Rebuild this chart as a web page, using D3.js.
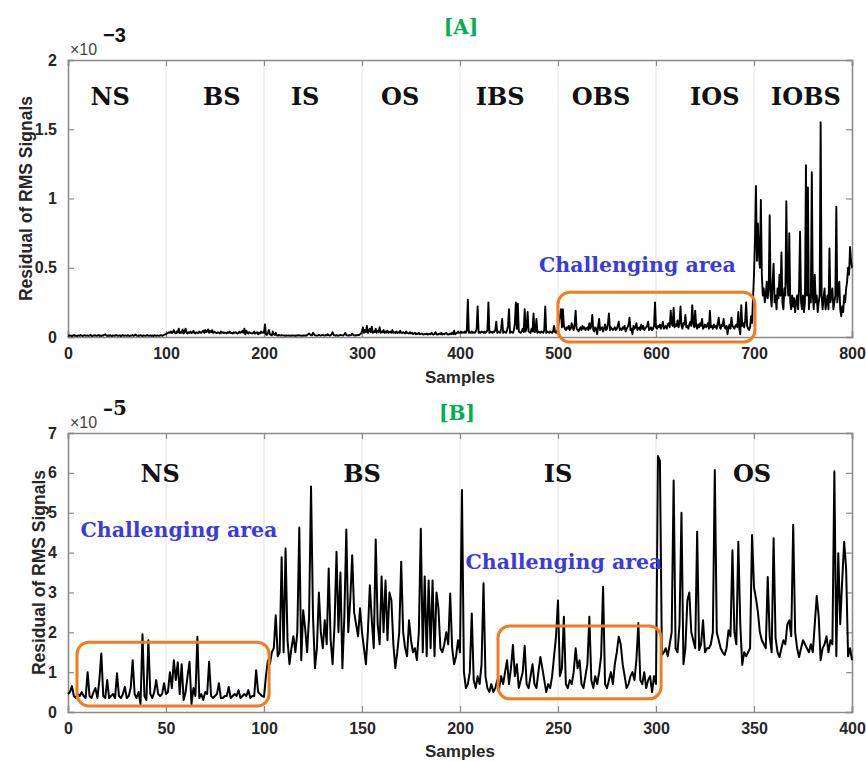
<!DOCTYPE html>
<html><head><meta charset="utf-8">
<script src="https://cdn.jsdelivr.net/npm/d3@7"></script>
<style>body{margin:0;background:#fff}</style>
</head><body>
<svg id="c" width="866" height="762"></svg>
<script>
// ---------------- DATA ----------------
// Panel A (units of 1e-3), one value per sample, 0..800
const aNS = [0.01,0.008,0.012,0.01,0.006,0.01,0.014,0.009,0.011,0.007,0.01,0.012,0.008,0.015,0.01,0.006,0.011,0.013,0.009,0.01,0.012,0.008,0.01,0.016,0.009,0.007,0.011,0.01,0.013,0.008,0.01,0.014,0.009,0.011,0.007,0.012,0.01,0.016,0.02,0.012,0.009,0.011,0.008,0.013,0.01,0.007,0.012,0.01,0.009,0.014,0.011,0.008,0.01,0.012,0.006,0.011,0.015,0.009,0.01,0.012,0.008,0.013,0.01,0.007,0.011,0.01,0.014,0.009,0.012,0.018,0.01,0.008,0.011,0.009,0.013,0.01,0.007,0.012,0.01,0.009,0.011,0.014,0.008,0.01,0.012,0.009,0.011,0.007,0.013,0.01,0.009,0.012,0.01,0.008,0.011,0.013,0.009,0.012,0.015,0.02];
const aBS = [0.02,0.025,0.03,0.035,0.03,0.04,0.028,0.035,0.05,0.03,0.025,0.04,0.032,0.06,0.028,0.035,0.03,0.055,0.025,0.04,0.06,0.03,0.025,0.035,0.03,0.04,0.028,0.033,0.045,0.03,0.025,0.035,0.03,0.028,0.04,0.032,0.03,0.038,0.045,0.03,0.05,0.035,0.04,0.055,0.03,0.045,0.035,0.05,0.03,0.04,0.035,0.03,0.028,0.035,0.03,0.025,0.04,0.03,0.035,0.028,0.032,0.03,0.025,0.035,0.03,0.04,0.028,0.03,0.025,0.033,0.03,0.035,0.028,0.025,0.03,0.04,0.03,0.035,0.045,0.03,0.06,0.02,0.045,0.03,0.025,0.035,0.03,0.028,0.025,0.03,0.04,0.025,0.03,0.035,0.02,0.03,0.025,0.04,0.03,0.035];
const aIS = [0.03,0.09,0.02,0.015,0.03,0.05,0.02,0.015,0.012,0.04,0.02,0.015,0.03,0.012,0.01,0.015,0.012,0.01,0.014,0.012,0.01,0.012,0.009,0.011,0.01,0.012,0.01,0.009,0.011,0.01,0.012,0.01,0.009,0.011,0.01,0.013,0.01,0.012,0.01,0.009,0.011,0.01,0.012,0.01,0.015,0.02,0.025,0.018,0.013,0.012,0.03,0.02,0.013,0.012,0.01,0.011,0.015,0.012,0.01,0.013,0.015,0.012,0.01,0.014,0.012,0.02,0.013,0.011,0.012,0.02,0.035,0.015,0.012,0.011,0.013,0.01,0.012,0.011,0.015,0.013,0.012,0.011,0.02,0.03,0.014,0.012,0.011,0.013,0.012,0.014,0.025,0.015,0.012,0.011,0.013,0.012,0.015,0.014,0.02,0.025];
const aOS = [0.04,0.07,0.03,0.05,0.035,0.08,0.03,0.04,0.06,0.035,0.075,0.03,0.04,0.035,0.06,0.03,0.045,0.035,0.07,0.03,0.04,0.035,0.05,0.03,0.04,0.032,0.045,0.03,0.035,0.04,0.03,0.05,0.03,0.035,0.03,0.04,0.028,0.035,0.03,0.045,0.03,0.028,0.035,0.03,0.025,0.04,0.03,0.028,0.025,0.035,0.025,0.03,0.022,0.025,0.03,0.02,0.025,0.022,0.03,0.02,0.022,0.025,0.02,0.018,0.022,0.02,0.025,0.018,0.02,0.022,0.02,0.03,0.02,0.018,0.022,0.035,0.02,0.018,0.02,0.025,0.02,0.03,0.018,0.022,0.02,0.025,0.03,0.02,0.018,0.02,0.025,0.02,0.03,0.02,0.045,0.02,0.025,0.03,0.04,0.03];
const aIBS = [0.03,0.04,0.03,0.035,0.03,0.04,0.03,0.05,0.27,0.03,0.035,0.03,0.04,0.03,0.035,0.03,0.04,0.06,0.22,0.03,0.035,0.03,0.04,0.035,0.03,0.04,0.03,0.035,0.05,0.25,0.03,0.04,0.035,0.03,0.04,0.035,0.05,0.11,0.03,0.04,0.035,0.03,0.06,0.13,0.03,0.04,0.035,0.03,0.05,0.08,0.2,0.03,0.04,0.035,0.03,0.05,0.1,0.25,0.06,0.24,0.04,0.035,0.03,0.04,0.06,0.035,0.2,0.04,0.07,0.18,0.04,0.035,0.03,0.06,0.04,0.17,0.035,0.04,0.13,0.03,0.04,0.035,0.03,0.04,0.035,0.03,0.05,0.22,0.03,0.04,0.035,0.03,0.04,0.035,0.03,0.04,0.08,0.035,0.03,0.04];
const aOBS = [0.06,0.12,0.15,0.2,0.07,0.2,0.08,0.06,0.05,0.07,0.06,0.08,0.05,0.06,0.1,0.07,0.05,0.09,0.19,0.06,0.05,0.04,0.06,0.07,0.05,0.08,0.06,0.07,0.05,0.06,0.07,0.05,0.1,0.06,0.08,0.16,0.05,0.04,0.07,0.06,0.02,0.08,0.13,0.05,0.06,0.07,0.04,0.06,0.09,0.05,0.06,0.1,0.17,0.05,0.07,0.06,0.05,0.06,0.07,0.05,0.06,0.08,0.11,0.05,0.06,0.05,0.07,0.06,0.08,0.04,0.06,0.07,0.09,0.14,0.05,0.06,0.02,0.08,0.06,0.07,0.1,0.05,0.06,0.07,0.05,0.09,0.06,0.08,0.05,0.06,0.07,0.08,0.11,0.05,0.06,0.07,0.05,0.06,0.08,0.25];
const aIOS = [0.07,0.06,0.08,0.07,0.09,0.06,0.08,0.11,0.06,0.07,0.08,0.06,0.09,0.1,0.07,0.19,0.1,0.08,0.21,0.07,0.09,0.08,0.12,0.07,0.1,0.22,0.08,0.06,0.1,0.09,0.16,0.07,0.08,0.06,0.09,0.11,0.08,0.23,0.1,0.07,0.19,0.08,0.06,0.09,0.07,0.1,0.08,0.13,0.06,0.07,0.09,0.07,0.08,0.1,0.06,0.19,0.07,0.08,0.06,0.09,0.07,0.08,0.06,0.1,0.14,0.07,0.06,0.09,0.08,0.13,0.07,0.06,0.08,0.02,0.07,0.09,0.06,0.14,0.08,0.07,0.06,0.08,0.09,0.07,0.18,0.06,0.02,0.23,0.08,0.1,0.07,0.12,0.25,0.08,0.06,0.05,0.07,0.15,0.1,0.28];
const aIOBS = [0.45,0.7,1.09,0.55,0.82,0.6,0.5,0.99,0.45,0.3,0.35,0.25,0.3,0.4,0.28,0.35,0.88,0.3,0.22,0.4,0.53,0.25,0.3,0.2,0.35,0.28,0.45,0.3,0.61,0.25,0.2,0.35,0.3,0.98,0.4,0.3,0.75,0.25,0.2,0.3,0.22,0.28,0.18,0.25,0.3,0.2,0.35,0.76,0.25,0.2,0.3,0.18,0.25,1.24,0.3,1.08,0.2,0.3,0.25,1.19,0.3,0.2,0.45,0.25,0.3,0.18,0.25,0.3,1.55,0.3,0.2,0.28,0.35,0.2,0.25,0.3,0.2,0.64,0.25,0.3,0.35,0.2,0.25,0.3,0.94,0.25,0.35,0.4,0.2,0.15,0.22,0.18,0.3,0.25,0.35,0.4,0.5,0.45,0.65,0.55,0.5];

// Panel B (units of 1e-5), one value per sample, 0..400
const bNS = [0.45,0.5,0.65,0.4,0.35,0.45,0.4,0.5,0.4,0.35,1.0,0.4,0.35,0.5,0.6,0.35,0.8,1.47,0.4,0.35,0.8,0.35,0.4,0.45,0.35,0.97,0.4,0.35,0.45,0.63,0.35,0.4,0.6,1.3,0.45,0.35,0.5,0.2,1.95,0.4,0.3,1.8,0.45,0.35,0.5,0.8,0.45,0.4,0.45,0.72,0.45,0.5,1.0,0.6,1.3,0.8,1.25,0.45,1.2,0.3,0.5,0.9,1.26,0.2,0.6,0.4,1.89,0.35,0.45,0.3,0.5,0.45,1.26,0.4,0.35,0.4,0.45,0.72,0.35,0.35,0.4,0.4,0.63,0.35,0.4,0.45,0.4,0.55,0.35,0.4,0.45,0.4,0.55,0.35,0.4,0.4,1.05,0.5,0.45,0.4];
const bBS = [0.38,0.9,1.3,1.2,1.5,1.6,2.43,1.4,1.5,3.88,1.5,4.1,1.8,1.2,1.6,1.9,1.5,2.0,4.63,1.3,2.55,2.1,1.5,2.4,5.66,2.4,1.1,1.6,3.0,2.0,1.6,2.3,1.7,3.6,1.8,1.2,2.2,4.02,2.0,3.5,1.1,2.4,4.58,2.0,2.8,3.93,2.5,2.2,1.9,2.6,2.0,1.6,1.2,2.0,3.18,2.3,1.6,4.33,2.2,1.7,3.4,2.0,3.3,1.8,3.0,2.8,1.7,1.1,1.5,2.0,3.77,2.0,1.6,1.4,2.3,1.8,1.5,1.6,1.3,2.0,4.6,1.5,3.4,1.4,3.3,1.6,3.3,1.4,3.0,2.6,1.6,1.5,1.7,2.0,1.7,2.97,1.6,1.2,1.4,1.8];
const bIS = [1.5,5.57,1.0,0.6,0.7,1.0,2.47,0.8,0.6,0.9,0.7,1.2,3.23,0.9,0.6,0.5,0.7,0.5,0.6,0.8,0.6,0.9,0.7,1.0,1.3,0.7,1.1,1.68,0.9,1.2,0.6,0.8,1.0,1.66,0.7,0.6,0.9,1.2,0.7,0.6,1.0,1.38,1.1,0.8,0.5,0.7,0.6,0.9,1.4,1.9,2.8,0.9,1.1,2.39,0.7,0.6,0.8,0.7,1.0,1.6,1.1,1.3,0.7,0.6,0.9,1.2,2.39,0.8,0.6,0.9,0.7,1.0,1.4,3.14,0.7,0.6,0.8,1.0,0.7,1.2,1.5,1.89,1.7,1.2,0.9,0.6,0.7,0.9,1.0,0.8,1.3,2.23,0.8,0.7,1.0,0.6,0.8,0.9,0.5,0.9];
const bOS = [0.7,6.42,6.3,1.43,1.5,1.6,1.4,1.7,2.0,5.81,1.6,1.5,2.2,5.0,1.2,1.6,2.8,3.0,2.0,1.8,1.6,4.52,1.55,1.7,2.3,1.5,1.6,1.6,1.7,2.0,6.07,2.0,1.8,1.6,1.5,1.43,1.6,2.05,1.9,4.06,2.0,1.7,4.27,2.2,1.18,1.5,1.4,1.5,1.6,4.44,3.13,2.85,2.5,2.0,1.8,1.7,1.6,3.39,1.9,1.5,4.36,1.86,1.5,1.38,1.6,1.8,1.7,2.2,2.3,1.9,4.7,2.0,1.6,1.38,1.6,1.8,1.7,1.6,1.5,1.7,1.5,2.2,2.91,2.4,1.3,1.6,1.7,1.9,1.5,1.8,1.7,6.04,1.4,3.98,2.2,3.3,4.27,3.6,1.4,1.6,1.3];

const seriesA = [...aNS, ...aBS, ...aIS, ...aOS, ...aIBS, ...aOBS, ...aIOS, ...aIOBS];
const seriesB = [...bNS, ...bBS, ...bIS, ...bOS];

const xTicksA = [0,100,200,300,400,500,600,700,800];
const yTicksA = [0,0.5,1,1.5,2];
const xTicksB = [0,50,100,150,200,250,300,350,400];
const yTicksB = [0,1,2,3,4,5,6,7];

const classesA = ["NS","BS","IS","OS","IBS","OBS","IOS","IOBS"];
const classPosA = [43,157,242,339,441,544,660,753];
const classesB = ["NS","BS","IS","OS"];
const classPosB = [47,150,250,349];

// annotation regions (in data units)
const boxesA = [{x0:500,x1:701,y0:-0.037,y1:0.323}];
const noteA = [{x:581,y:0.467}];
const boxesB = [{x0:4.6,x1:102.6,y0:0.15,y1:1.75},{x0:219.4,x1:302.6,y0:0.33,y1:2.16}];
const noteB = [{x:56.6,y:4.39},{x:253,y:3.58}];

// ---------------- DRAW ----------------
const svg = d3.select("#c");
const AX = "#8a8a8a", TXT = "#262626", ORANGE = "#f47b20", BLUE = "#3b3bdc", GREEN = "#00b050";
const SERIF = "'DejaVu Serif', serif", SANS = "Arial, 'Liberation Sans', sans-serif";

function panel(cfg){
  const g = svg.append("g");
  const x = d3.scaleLinear().domain(cfg.xd).range([cfg.l, cfg.r]);
  const y = d3.scaleLinear().domain(cfg.yd).range([cfg.b, cfg.t]);
  g.selectAll(".grid").data(cfg.xt.slice(1,-1)).join("line")
    .attr("x1",d=>x(d)).attr("x2",d=>x(d)).attr("y1",cfg.t).attr("y2",cfg.b)
    .attr("stroke","#e3e3e3").attr("stroke-width",1);
  const bottom = d3.axisBottom(x).tickValues(cfg.xt).tickSize(-6).tickPadding(11).tickFormat(d3.format("d"));
  const top = d3.axisTop(x).tickValues(cfg.xt).tickSize(-6).tickFormat("");
  const left = d3.axisLeft(y).tickValues(cfg.yt).tickSize(-6).tickPadding(11).tickFormat(d=>String(d));
  const right = d3.axisRight(y).tickValues(cfg.yt).tickSize(-6).tickFormat("");
  const ax = [
    g.append("g").attr("transform",`translate(0,${cfg.b})`).call(bottom),
    g.append("g").attr("transform",`translate(0,${cfg.t})`).call(top),
    g.append("g").attr("transform",`translate(${cfg.l},0)`).call(left),
    g.append("g").attr("transform",`translate(${cfg.r},0)`).call(right)
  ];
  ax.forEach(a=>{
    a.select(".domain").attr("stroke",AX).attr("stroke-width",1.6);
    a.selectAll(".tick line").attr("stroke",AX).attr("stroke-width",1.2);
    a.selectAll(".tick text").attr("fill",TXT).attr("font-family",SANS)
      .attr("font-weight","bold").attr("font-size",16);
  });
  const line = d3.line().x((d,i)=>x(i)).y(d=>y(d));
  g.append("path").datum(cfg.data).attr("d",line).attr("fill","none")
    .attr("stroke","#000").attr("stroke-width",cfg.lw).attr("stroke-linejoin","round");
  g.selectAll(".cls").data(cfg.cls).join("text")
    .attr("x",(d,i)=>x(cfg.clsPos[i])).attr("y",cfg.clsY)
    .attr("text-anchor","middle").attr("font-family",SERIF).attr("font-weight","bold")
    .attr("font-size",24).attr("fill","#111").text(d=>d);
  g.selectAll(".box").data(cfg.boxes).join("rect")
    .attr("x",d=>x(d.x0)).attr("y",d=>y(d.y1))
    .attr("width",d=>x(d.x1)-x(d.x0)).attr("height",d=>y(d.y0)-y(d.y1))
    .attr("rx",12).attr("ry",12).attr("fill","none")
    .attr("stroke",ORANGE).attr("stroke-width",3);
  g.selectAll(".note").data(cfg.notes).join("text")
    .attr("x",d=>x(d.x)).attr("y",d=>y(d.y)).attr("text-anchor","middle")
    .attr("font-family",SERIF).attr("font-weight","bold").attr("font-size",20.5)
    .attr("fill",BLUE).text("Challenging area");
  g.append("text").attr("x",cfg.titleX).attr("y",cfg.titleY).attr("text-anchor","middle")
    .attr("font-family",SERIF).attr("font-weight","bold").attr("font-size",20)
    .attr("fill",GREEN).text(cfg.title);
  g.append("text").attr("x",cfg.l+2).attr("y",cfg.t-5).attr("font-family",SANS)
    .attr("font-size",16).attr("fill","#444").text("\u00d710");
  g.append("text").attr("x",cfg.l+35).attr("y",cfg.t-18).attr("font-family",cfg.expFont)
    .attr("font-weight","bold").attr("font-size",20).attr("fill","#111").text(cfg.exp);
  g.append("text").attr("x",(cfg.l+cfg.r)/2).attr("y",cfg.xLabY).attr("text-anchor","middle")
    .attr("font-family",SANS).attr("font-weight","bold").attr("font-size",17)
    .attr("fill",TXT).text("Samples");
  g.append("text").attr("transform",`translate(${cfg.yLabX},${(cfg.t+cfg.b)/2}) rotate(-90)`)
    .attr("text-anchor","middle").attr("font-family",SANS).attr("font-weight","bold")
    .attr("font-size",17.5).attr("fill",TXT).text("Residual of RMS Signals");
}

panel({xd:[0,800], yd:[0,2], l:68, r:852, t:60, b:337, xt:xTicksA, yt:yTicksA,
  data:seriesA, lw:1.9, cls:classesA, clsPos:classPosA, clsY:105,
  boxes:boxesA, notes:noteA, title:"[A]", titleX:461, titleY:34,
  exp:"\u22123", expFont:SANS, xLabY:383, yLabX:32});
panel({xd:[0,400], yd:[0,7], l:68, r:852, t:433, b:712, xt:xTicksB, yt:yTicksB,
  data:seriesB, lw:2, cls:classesB, clsPos:classPosB, clsY:482,
  boxes:boxesB, notes:noteB, title:"[B]", titleX:457, titleY:420,
  exp:"\u20135", expFont:SERIF, xLabY:757, yLabX:45});
</script>
</body></html>
